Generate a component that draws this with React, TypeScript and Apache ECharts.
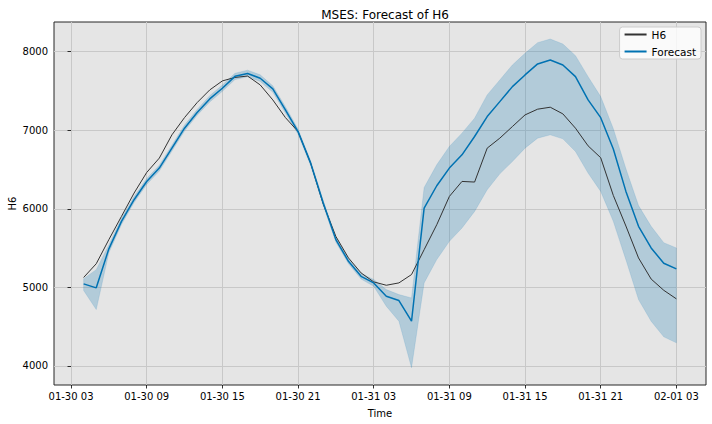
import React, { useEffect, useRef } from "react";
import * as echarts from "echarts";

const times = [
  "01-30 04", "01-30 05", "01-30 06", "01-30 07", "01-30 08", "01-30 09", "01-30 10", "01-30 11",
  "01-30 12", "01-30 13", "01-30 14", "01-30 15", "01-30 16", "01-30 17", "01-30 18", "01-30 19",
  "01-30 20", "01-30 21", "01-30 22", "01-30 23", "01-31 00", "01-31 01", "01-31 02", "01-31 03",
  "01-31 04", "01-31 05", "01-31 06", "01-31 07", "01-31 08", "01-31 09", "01-31 10", "01-31 11",
  "01-31 12", "01-31 13", "01-31 14", "01-31 15", "01-31 16", "01-31 17", "01-31 18", "01-31 19",
  "01-31 20", "01-31 21", "01-31 22", "01-31 23", "02-01 00", "02-01 01", "02-01 02", "02-01 03",
];

const h6Actual = [
  5125, 5300, 5607, 5903, 6200, 6462, 6645, 6941, 7161, 7352, 7513, 7628,
  7672, 7690, 7577, 7386, 7161, 6983, 6581, 6060, 5648, 5374, 5183, 5069,
  5026, 5056, 5162, 5479, 5797, 6157, 6348, 6340, 6772, 6899, 7047, 7195,
  7268, 7293, 7208, 7026, 6801, 6650, 6170, 5780, 5374, 5105, 4962, 4853,
];

const forecast = [
  5044, 4993, 5490, 5839, 6115, 6347, 6518, 6772, 7026, 7225, 7399, 7535,
  7686, 7722, 7662, 7526, 7259, 6983, 6581, 6073, 5607, 5331, 5140, 5056,
  4886, 4831, 4568, 6009, 6293, 6518, 6687, 6920, 7174, 7364, 7555, 7704,
  7844, 7895, 7831, 7682, 7386, 7160, 6760, 6221, 5776, 5501, 5306, 5234,
];

const lowerBound = [
  4960, 4717, 5440, 5800, 6080, 6310, 6480, 6735, 6990, 7190, 7360, 7495,
  7645, 7680, 7620, 7485, 7220, 6950, 6550, 6040, 5575, 5300, 5105, 5013,
  4759, 4568, 3976, 5056, 5353, 5585, 5755, 5966, 6242, 6445, 6602, 6772,
  6899, 6941, 6890, 6729, 6454, 6221, 5840, 5350, 4844, 4568, 4369, 4293,
];

const upperBound = [
  5110, 5225, 5540, 5880, 6155, 6385, 6555, 6810, 7065, 7265, 7440, 7575,
  7725, 7765, 7705, 7565, 7300, 7015, 6610, 6105, 5640, 5365, 5175, 5100,
  4971, 4907, 4865, 6270, 6560, 6793, 6963, 7153, 7450, 7640, 7831, 7979,
  8115, 8161, 8098, 7949, 7682, 7428, 7020, 6510, 6040, 5776, 5568, 5501,
];

const xTickLabels = [
  "01-30 03", "01-30 09", "01-30 15", "01-30 21", "01-31 03",
  "01-31 09", "01-31 15", "01-31 21", "02-01 03",
];
const yTicks = [4000, 5000, 6000, 7000, 8000];

function toHours(label: string): number {
  const [md, hh] = label.split(" ");
  const [m, d] = md.split("-").map(Number);
  return (Date.UTC(2000, m - 1, d, Number(hh)) - Date.UTC(2000, 0, 30, 3)) / 3600000;
}

const FONT = "DejaVu Sans";

export default function App() {
  const ref = useRef<HTMLDivElement>(null);
  useEffect(() => {
    if (!ref.current) return;
    const chart = echarts.init(ref.current, null, { renderer: "svg" });
    const xs = times.map(toHours);
    const xTickVals = xTickLabels.map(toHours);
    const pair = (arr: number[]) => arr.map((v, i) => [xs[i], v]);
    const bandData = xs.map((x, i) => [x, lowerBound[i], upperBound[i]]);
    const bandColor = "rgba(0,114,178,0.22)";

    chart.setOption({
      animation: false,
      backgroundColor: "#ffffff",
      textStyle: { fontFamily: FONT },
      title: {
        text: "MSES: Forecast of H6",
        left: 380,
        top: 4,
        textAlign: "center",
        textStyle: { fontFamily: FONT, fontSize: 12, fontWeight: "normal", color: "#000" },
      },
      legend: {
        data: ["H6", "Forecast"],
        orient: "vertical",
        right: 11,
        top: 27,
        itemWidth: 22,
        itemHeight: 11,
        itemGap: 6,
        padding: [2, 5, 2, 4],
        backgroundColor: "rgba(255,255,255,0.8)",
        borderColor: "#cccccc",
        borderWidth: 1,
        borderRadius: 3,
        itemStyle: { opacity: 0 },
        textStyle: { fontFamily: FONT, fontSize: 10.5, color: "#000" },
      },
      grid: {
        left: 54,
        right: 6,
        top: 22,
        bottom: 39,
        outerBoundsMode: "none",
        containLabel: false,
        show: true,
        backgroundColor: "#e5e5e5",
        borderColor: "#262626",
        borderWidth: 1,
      },
      xAxis: {
        type: "value",
        min: -1.35,
        max: 50.35,
        name: "Time",
        nameLocation: "middle",
        nameGap: 23,
        nameMoveOverlap: false,
        nameTextStyle: { fontFamily: FONT, fontSize: 10, color: "#000" },
        axisLine: { show: false },
        axisTick: {
          show: true,
          length: 3.5,
          customValues: xTickVals,
          lineStyle: { color: "#000", width: 0.8 },
        },
        axisLabel: {
          customValues: xTickVals,
          margin: 6,
          fontFamily: FONT,
          fontSize: 10,
          color: "#000",
          formatter: (v: number) => {
            let best = 0;
            for (let i = 0; i < xTickVals.length; i++) {
              if (Math.abs(xTickVals[i] - v) < Math.abs(xTickVals[best] - v)) best = i;
            }
            return xTickLabels[best];
          },
        },
        splitLine: { show: true, lineStyle: { color: "#c8c8c8", width: 1 } },
      },
      yAxis: {
        type: "value",
        min: 3756,
        max: 8378,
        name: "H6",
        nameLocation: "middle",
        nameGap: 37,
        nameMoveOverlap: false,
        nameTextStyle: { fontFamily: FONT, fontSize: 10, color: "#000" },
        axisLine: { show: false },
        axisTick: {
          show: true,
          length: 3.5,
          customValues: yTicks,
          lineStyle: { color: "#000", width: 0.8 },
        },
        axisLabel: {
          customValues: yTicks,
          margin: 6,
          fontFamily: FONT,
          fontSize: 10,
          color: "#000",
          formatter: (v: number) => String(v),
        },
        splitLine: { show: true, lineStyle: { color: "#c8c8c8", width: 1 } },
      },
      series: [
        {
          name: "band",
          type: "custom",
          data: bandData,
          encode: { x: 0, y: [1, 2] },
          silent: true,
          z: 1,
          renderItem: (params: any, api: any) => {
            if (params.dataIndex !== 0) return null;
            const top = bandData.map((d) => api.coord([d[0], d[2]]));
            const bottom = bandData.map((d) => api.coord([d[0], d[1]])).reverse();
            return {
              type: "polygon",
              shape: { points: top.concat(bottom) },
              style: { fill: bandColor, stroke: "rgba(0,114,178,0.12)", lineWidth: 1 },
            };
          },
        },
        {
          name: "H6",
          type: "line",
          data: pair(h6Actual),
          symbol: "none",
          color: "#333333",
          lineStyle: { color: "#333333", width: 1 },
          z: 3,
        },
        {
          name: "Forecast",
          type: "line",
          data: pair(forecast),
          symbol: "none",
          color: "#0072B2",
          lineStyle: { color: "#0072B2", width: 1.5 },
          z: 4,
        },
      ],
    });
    return () => chart.dispose();
  }, []);
  return (
    <div
      ref={ref}
      style={{ position: "fixed", left: 0, top: 0, width: 712, height: 424 }}
    />
  );
}
